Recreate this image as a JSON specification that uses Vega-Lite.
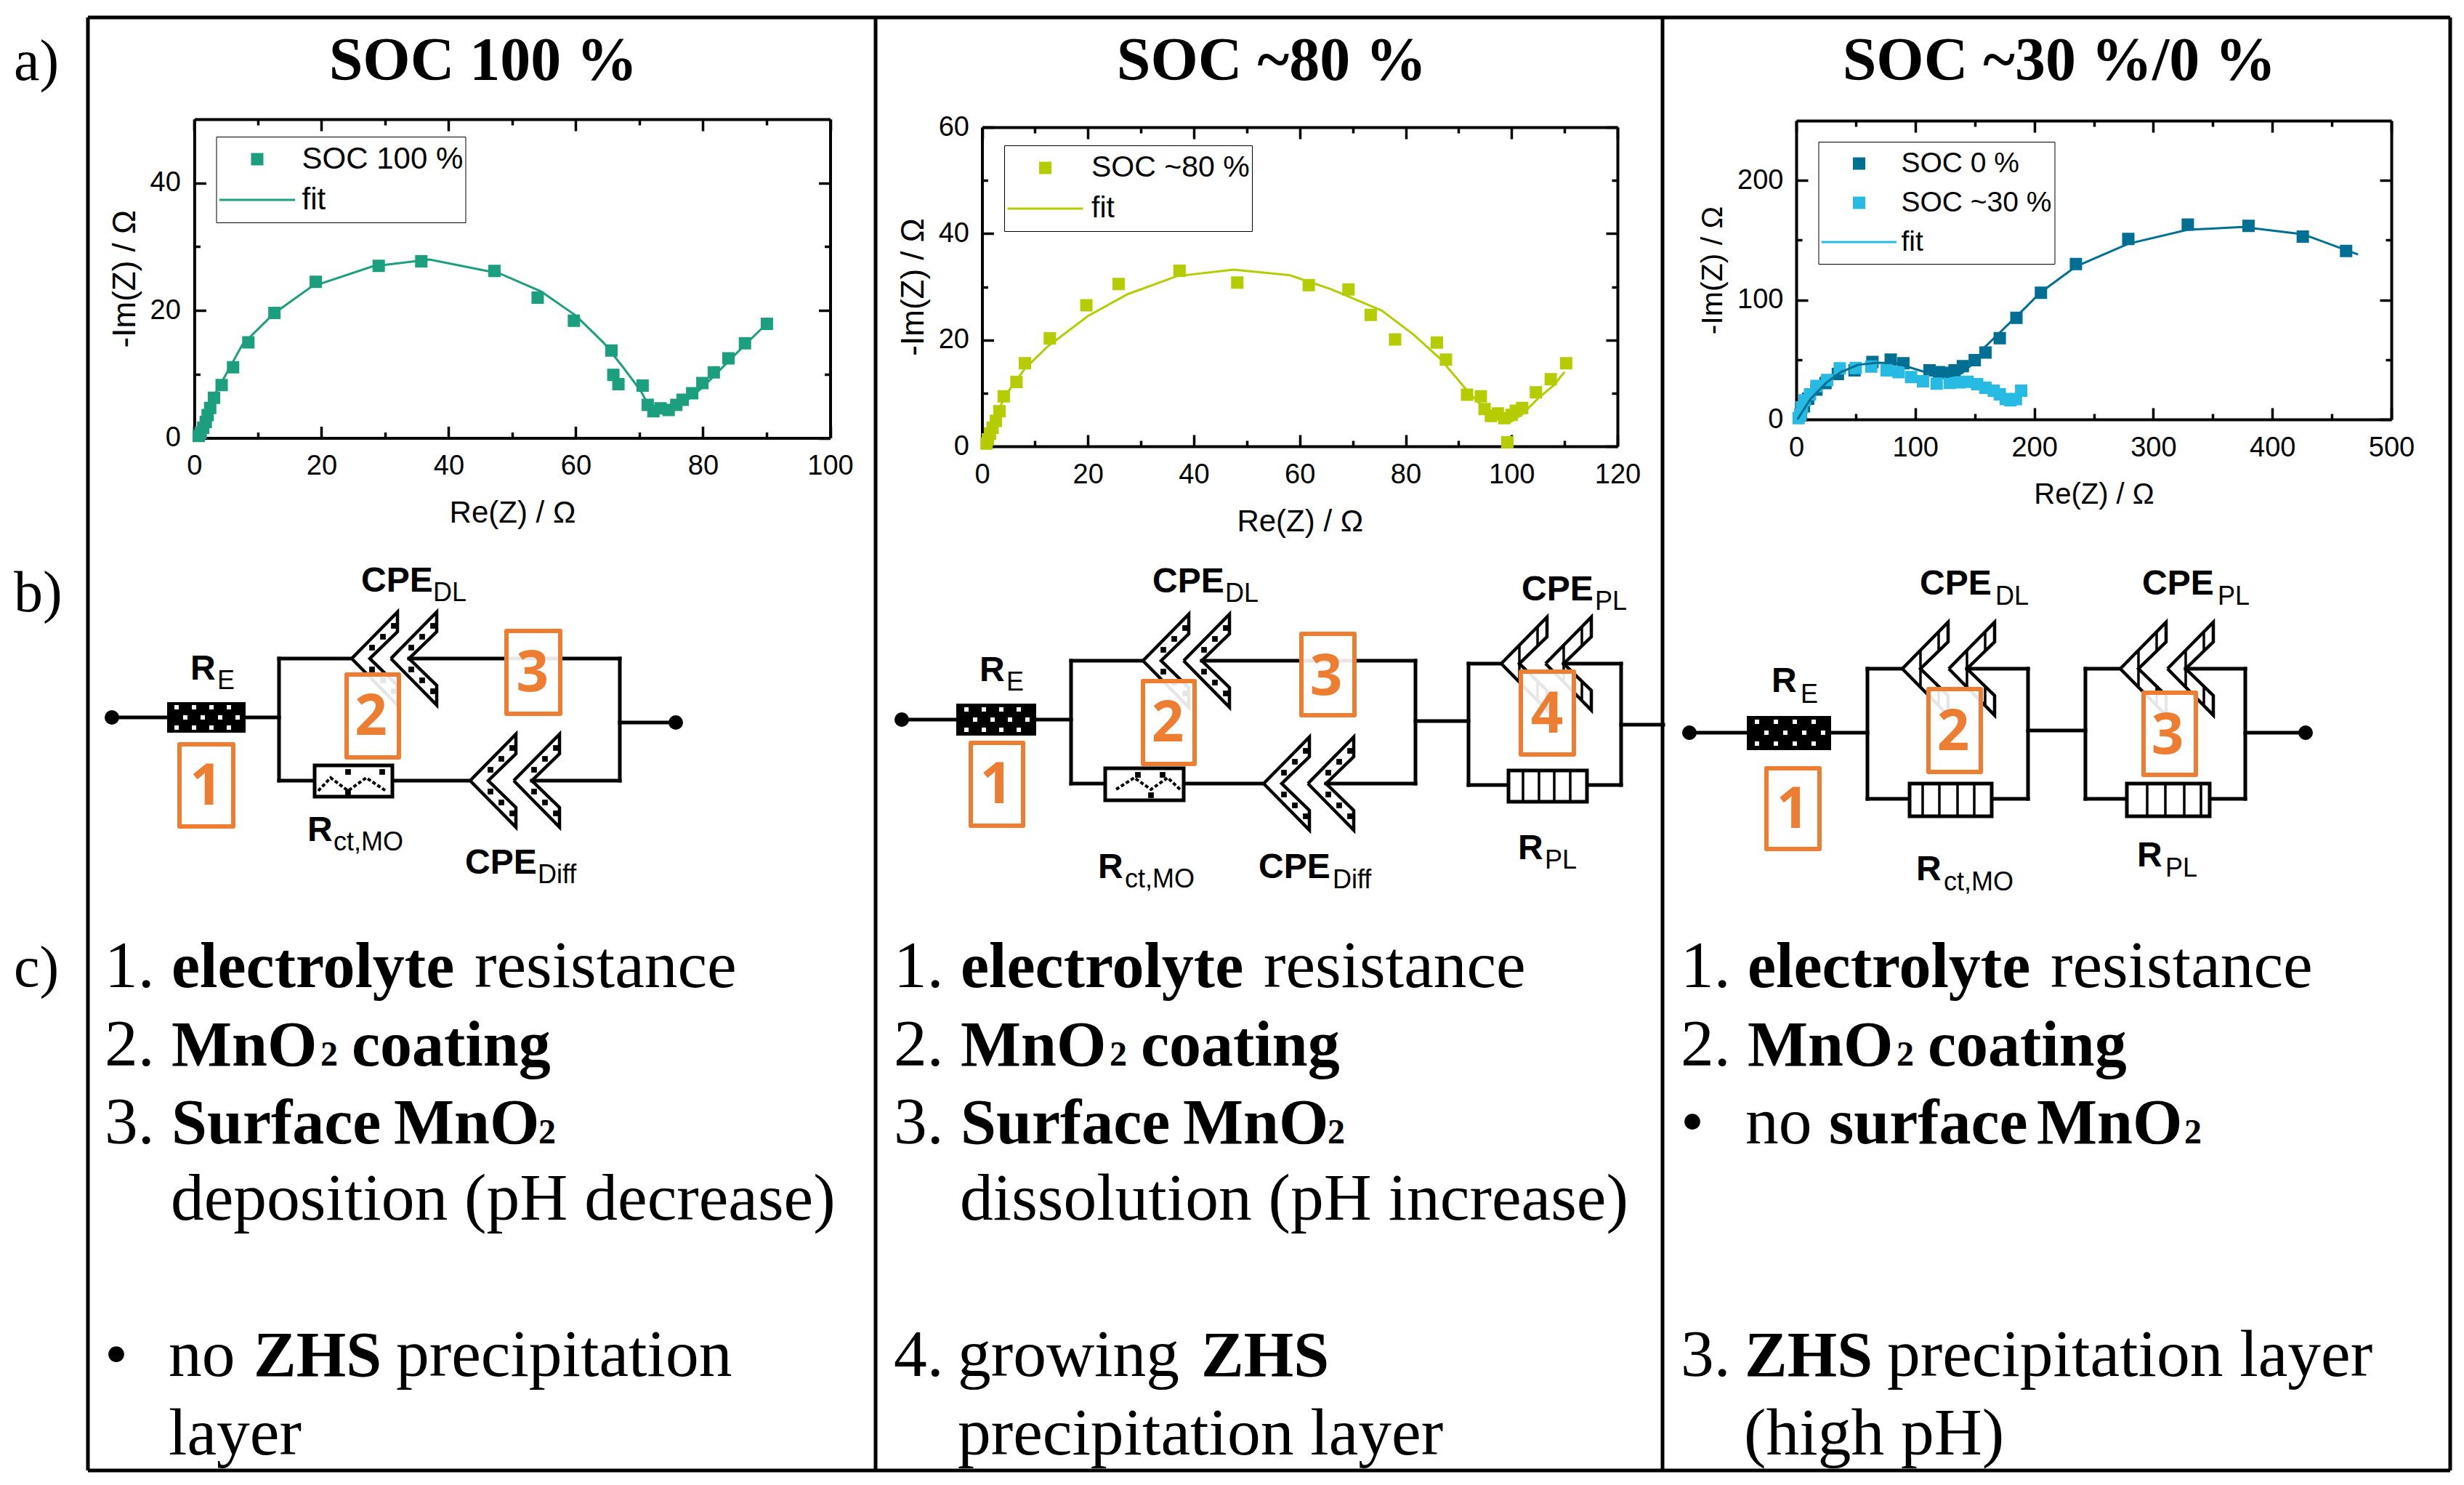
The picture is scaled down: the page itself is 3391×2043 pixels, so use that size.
{"$schema":"https://vega.github.io/schema/vega-lite/v6.json","width":3391,"height":2043,"autosize":{"type":"none"},"padding":0,"background":"white","config":{"view":{"stroke":null},"axis":{"grid":false,"domainColor":"black","tickColor":"black","labelColor":"black","titleColor":"black","domainWidth":4,"tickWidth":3.5,"labelFont":"Liberation Sans","titleFont":"Liberation Sans","titleFontWeight":"normal","labelFlush":false,"labelOverlap":false,"labelBound":false}},
"datasets":{
"frame":[{"u":12.1,"v":2.4,"u2":337.2,"v2":2.4},{"u":12.1,"v":202.3,"u2":337.2,"v2":202.3},{"u":12.1,"v":2.4,"u2":12.1,"v2":202.3},{"u":120.5,"v":2.4,"u2":120.5,"v2":202.3},{"u":228.8,"v":2.4,"u2":228.8,"v2":202.3},{"u":337.2,"v":2.4,"u2":337.2,"v2":202.3}],
"wires":[{"u":15.4,"v":98.7,"u2":23,"v2":98.7},{"u":33.8,"v":98.7,"u2":38.4,"v2":98.7},{"u":38.4,"v":90.6,"u2":38.4,"v2":107.4},{"u":38.4,"v":90.6,"u2":48.4,"v2":90.6},{"u":56.3,"v":90.6,"u2":85.3,"v2":90.6},{"u":85.3,"v":90.6,"u2":85.3,"v2":107.4},{"u":38.4,"v":107.4,"u2":43.3,"v2":107.4},{"u":54,"v":107.4,"u2":64.7,"v2":107.4},{"u":73.2,"v":107.4,"u2":85.3,"v2":107.4},{"u":85.3,"v":99.4,"u2":93,"v2":99.4},
{"u":124.1,"v":99,"u2":131.6,"v2":99},{"u":142.6,"v":99,"u2":147.4,"v2":99},{"u":147.4,"v":90.9,"u2":147.4,"v2":107.8},{"u":147.4,"v":90.9,"u2":157.3,"v2":90.9},{"u":165.4,"v":90.9,"u2":194.8,"v2":90.9},{"u":194.8,"v":90.9,"u2":194.8,"v2":107.8},{"u":147.4,"v":107.8,"u2":152.1,"v2":107.8},{"u":162.9,"v":107.8,"u2":173.9,"v2":107.8},{"u":182.5,"v":107.8,"u2":194.8,"v2":107.8},{"u":194.8,"v":99.2,"u2":202.1,"v2":99.2},{"u":202.1,"v":91.3,"u2":202.1,"v2":108},{"u":202.1,"v":91.3,"u2":206.6,"v2":91.3},{"u":215.2,"v":91.3,"u2":223.1,"v2":91.3},{"u":223.1,"v":91.3,"u2":223.1,"v2":108},{"u":202.1,"v":108,"u2":207.6,"v2":108},{"u":218.4,"v":108,"u2":223.1,"v2":108},{"u":223.1,"v":99.7,"u2":228.9,"v2":99.7},
{"u":232.5,"v":100.8,"u2":240.4,"v2":100.8},{"u":252,"v":100.8,"u2":257,"v2":100.8},{"u":257,"v":92,"u2":257,"v2":109.9},{"u":257,"v":92,"u2":261.8,"v2":92},{"u":270.7,"v":92,"u2":279.1,"v2":92},{"u":279.1,"v":92,"u2":279.1,"v2":109.9},{"u":257,"v":109.9,"u2":262.8,"v2":109.9},{"u":274.1,"v":109.9,"u2":279.1,"v2":109.9},{"u":279.1,"v":100.5,"u2":287,"v2":100.5},{"u":287,"v":92,"u2":287,"v2":109.9},{"u":287,"v":92,"u2":291.8,"v2":92},{"u":300.8,"v":92,"u2":309,"v2":92},{"u":309,"v":92,"u2":309,"v2":109.9},{"u":287,"v":109.9,"u2":292.7,"v2":109.9},{"u":304.1,"v":109.9,"u2":309,"v2":109.9},{"u":309,"v":100.8,"u2":317.3,"v2":100.8}],
"thinbars":[{"u":209.1,"v":88.8,"u2":209.1,"v2":93.8},{"u":211.6,"v":86.2,"u2":211.6,"v2":88.9},{"u":211.6,"v":93.7,"u2":211.6,"v2":96.4},{"u":215.2,"v":88.8,"u2":215.2,"v2":93.8},{"u":217.7,"v":86.2,"u2":217.7,"v2":88.9},{"u":217.7,"v":93.7,"u2":217.7,"v2":96.4},
{"u":264.3,"v":89.5,"u2":264.3,"v2":94.5},{"u":266.8,"v":86.9,"u2":266.8,"v2":89.6},{"u":266.8,"v":94.4,"u2":266.8,"v2":97.1},{"u":270.7,"v":89.5,"u2":270.7,"v2":94.5},{"u":273.2,"v":86.9,"u2":273.2,"v2":89.6},{"u":273.2,"v":94.4,"u2":273.2,"v2":97.1},{"u":294.3,"v":89.5,"u2":294.3,"v2":94.5},{"u":296.8,"v":86.9,"u2":296.8,"v2":89.6},{"u":296.8,"v":94.4,"u2":296.8,"v2":97.1},{"u":300.8,"v":89.5,"u2":300.8,"v2":94.5},{"u":303.3,"v":86.9,"u2":303.3,"v2":89.6},{"u":303.3,"v":94.4,"u2":303.3,"v2":97.1}],
"resbars":[{"u":209.6,"v":106,"u2":209.6,"v2":110.3},{"u":211.8,"v":106,"u2":211.8,"v2":110.3},{"u":213.9,"v":106,"u2":213.9,"v2":110.3},{"u":216.1,"v":106,"u2":216.1,"v2":110.3},{"u":264.6,"v":107.8,"u2":264.6,"v2":112.3},{"u":266.9,"v":107.8,"u2":266.9,"v2":112.3},{"u":269.4,"v":107.8,"u2":269.4,"v2":112.3},{"u":271.7,"v":107.8,"u2":271.7,"v2":112.3},{"u":295.5,"v":107.8,"u2":295.5,"v2":112.3},{"u":298,"v":107.8,"u2":298,"v2":112.3},{"u":300.6,"v":107.8,"u2":300.6,"v2":112.3},{"u":302.9,"v":107.8,"u2":302.9,"v2":112.3}],
"terminals":[{"u":15.4,"v":98.7},{"u":93,"v":99.4},{"u":124.1,"v":99},{"u":232.5,"v":100.8},{"u":317.3,"v":100.8}],
"blackres":[{"u":23,"v":96.6,"u2":33.8,"v2":100.8},{"u":131.6,"v":96.8,"u2":142.6,"v2":101.2},{"u":240.4,"v":98.5,"u2":252,"v2":103.2}],
"whiteres":[{"u":43.3,"v":105.3,"u2":54,"v2":109.6},{"u":152.1,"v":105.7,"u2":162.9,"v2":110.1},{"u":207.6,"v":106,"u2":218.4,"v2":110.3},{"u":262.8,"v":107.8,"u2":274.1,"v2":112.3},{"u":292.7,"v":107.8,"u2":304.1,"v2":112.3}],
"whitedots":[{"u":24.3,"v":97.3},{"u":26.7,"v":97.3},{"u":29.1,"v":97.3},{"u":31.5,"v":97.3},{"u":25.5,"v":98.7},{"u":27.9,"v":98.7},{"u":30.3,"v":98.7},{"u":32.7,"v":98.7},{"u":24.3,"v":100.1},{"u":26.7,"v":100.1},{"u":29.1,"v":100.1},{"u":31.5,"v":100.1},
{"u":133,"v":97.6},{"u":135.4,"v":97.6},{"u":137.8,"v":97.6},{"u":140.2,"v":97.6},{"u":134.2,"v":99},{"u":136.6,"v":99},{"u":139,"v":99},{"u":141.4,"v":99},{"u":133,"v":100.4},{"u":135.4,"v":100.4},{"u":137.8,"v":100.4},{"u":140.2,"v":100.4},
{"u":241.8,"v":99.3},{"u":244.4,"v":99.3},{"u":247,"v":99.3},{"u":249.6,"v":99.3},{"u":243.1,"v":100.8},{"u":245.7,"v":100.8},{"u":248.3,"v":100.8},{"u":250.9,"v":100.8},{"u":241.8,"v":102.3},{"u":244.4,"v":102.3},{"u":247,"v":102.3},{"u":249.6,"v":102.3}],
"zig":[{"k":"a","o":1,"u":43.8,"v":108.8},{"k":"a","o":2,"u":45.5,"v":107},{"k":"a","o":3,"u":47.9,"v":108.8},{"k":"a","o":4,"u":50.4,"v":107},{"k":"a","o":5,"u":53.1,"v":108.8},{"k":"b","o":1,"u":153.6,"v":108.6},{"k":"b","o":2,"u":156.1,"v":107},{"k":"b","o":3,"u":158.4,"v":108.6},{"k":"b","o":4,"u":160.7,"v":107},{"k":"b","o":5,"u":162.4,"v":108.6}],
"chev":[
{"k":"c1","o":1,"u":48.4,"v":90.6},{"k":"c1","o":2,"u":54.7,"v":84.2},{"k":"c1","o":3,"u":54.7,"v":86.9},{"k":"c1","o":4,"u":50.9,"v":90.6},{"k":"c1","o":5,"u":54.7,"v":94.3},{"k":"c1","o":6,"u":54.7,"v":97},{"k":"c1","o":7,"u":48.4,"v":90.6},
{"k":"c2","o":1,"u":53.8,"v":90.6},{"k":"c2","o":2,"u":60.1,"v":84.2},{"k":"c2","o":3,"u":60.1,"v":86.9},{"k":"c2","o":4,"u":56.3,"v":90.6},{"k":"c2","o":5,"u":60.1,"v":94.3},{"k":"c2","o":6,"u":60.1,"v":97},{"k":"c2","o":7,"u":53.8,"v":90.6},
{"k":"c3","o":1,"u":64.7,"v":107.4},{"k":"c3","o":2,"u":71,"v":101},{"k":"c3","o":3,"u":71,"v":103.7},{"k":"c3","o":4,"u":67.2,"v":107.4},{"k":"c3","o":5,"u":71,"v":111.1},{"k":"c3","o":6,"u":71,"v":113.8},{"k":"c3","o":7,"u":64.7,"v":107.4},
{"k":"c4","o":1,"u":70.7,"v":107.4},{"k":"c4","o":2,"u":77,"v":101},{"k":"c4","o":3,"u":77,"v":103.7},{"k":"c4","o":4,"u":73.2,"v":107.4},{"k":"c4","o":5,"u":77,"v":111.1},{"k":"c4","o":6,"u":77,"v":113.8},{"k":"c4","o":7,"u":70.7,"v":107.4},
{"k":"c5","o":1,"u":157.3,"v":90.9},{"k":"c5","o":2,"u":163.6,"v":84.5},{"k":"c5","o":3,"u":163.6,"v":87.2},{"k":"c5","o":4,"u":159.8,"v":90.9},{"k":"c5","o":5,"u":163.6,"v":94.6},{"k":"c5","o":6,"u":163.6,"v":97.3},{"k":"c5","o":7,"u":157.3,"v":90.9},
{"k":"c6","o":1,"u":162.9,"v":90.9},{"k":"c6","o":2,"u":169.2,"v":84.5},{"k":"c6","o":3,"u":169.2,"v":87.2},{"k":"c6","o":4,"u":165.4,"v":90.9},{"k":"c6","o":5,"u":169.2,"v":94.6},{"k":"c6","o":6,"u":169.2,"v":97.3},{"k":"c6","o":7,"u":162.9,"v":90.9},
{"k":"c7","o":1,"u":173.9,"v":107.8},{"k":"c7","o":2,"u":180.2,"v":101.4},{"k":"c7","o":3,"u":180.2,"v":104.1},{"k":"c7","o":4,"u":176.4,"v":107.8},{"k":"c7","o":5,"u":180.2,"v":111.5},{"k":"c7","o":6,"u":180.2,"v":114.2},{"k":"c7","o":7,"u":173.9,"v":107.8},
{"k":"c8","o":1,"u":180,"v":107.8},{"k":"c8","o":2,"u":186.3,"v":101.4},{"k":"c8","o":3,"u":186.3,"v":104.1},{"k":"c8","o":4,"u":182.5,"v":107.8},{"k":"c8","o":5,"u":186.3,"v":111.5},{"k":"c8","o":6,"u":186.3,"v":114.2},{"k":"c8","o":7,"u":180,"v":107.8},
{"k":"c9","o":1,"u":206.6,"v":91.3},{"k":"c9","o":2,"u":212.9,"v":84.9},{"k":"c9","o":3,"u":212.9,"v":87.6},{"k":"c9","o":4,"u":209.1,"v":91.3},{"k":"c9","o":5,"u":212.9,"v":95},{"k":"c9","o":6,"u":212.9,"v":97.7},{"k":"c9","o":7,"u":206.6,"v":91.3},
{"k":"c10","o":1,"u":212.7,"v":91.3},{"k":"c10","o":2,"u":219,"v":84.9},{"k":"c10","o":3,"u":219,"v":87.6},{"k":"c10","o":4,"u":215.2,"v":91.3},{"k":"c10","o":5,"u":219,"v":95},{"k":"c10","o":6,"u":219,"v":97.7},{"k":"c10","o":7,"u":212.7,"v":91.3},
{"k":"c11","o":1,"u":261.8,"v":92},{"k":"c11","o":2,"u":268.1,"v":85.6},{"k":"c11","o":3,"u":268.1,"v":88.3},{"k":"c11","o":4,"u":264.3,"v":92},{"k":"c11","o":5,"u":268.1,"v":95.7},{"k":"c11","o":6,"u":268.1,"v":98.4},{"k":"c11","o":7,"u":261.8,"v":92},
{"k":"c12","o":1,"u":268.2,"v":92},{"k":"c12","o":2,"u":274.5,"v":85.6},{"k":"c12","o":3,"u":274.5,"v":88.3},{"k":"c12","o":4,"u":270.7,"v":92},{"k":"c12","o":5,"u":274.5,"v":95.7},{"k":"c12","o":6,"u":274.5,"v":98.4},{"k":"c12","o":7,"u":268.2,"v":92},
{"k":"c13","o":1,"u":291.8,"v":92},{"k":"c13","o":2,"u":298.1,"v":85.6},{"k":"c13","o":3,"u":298.1,"v":88.3},{"k":"c13","o":4,"u":294.3,"v":92},{"k":"c13","o":5,"u":298.1,"v":95.7},{"k":"c13","o":6,"u":298.1,"v":98.4},{"k":"c13","o":7,"u":291.8,"v":92},
{"k":"c14","o":1,"u":298.3,"v":92},{"k":"c14","o":2,"u":304.6,"v":85.6},{"k":"c14","o":3,"u":304.6,"v":88.3},{"k":"c14","o":4,"u":300.8,"v":92},{"k":"c14","o":5,"u":304.6,"v":95.7},{"k":"c14","o":6,"u":304.6,"v":98.4},{"k":"c14","o":7,"u":298.3,"v":92}],
"hatch":[{"u":51.2,"v":89.1},{"u":51.2,"v":92.1},{"u":52.7,"v":87.6},{"u":52.7,"v":93.6},{"u":54.2,"v":86.1},{"u":54.2,"v":95.1},{"u":56.6,"v":89.1},{"u":56.6,"v":92.1},{"u":58.1,"v":87.6},{"u":58.1,"v":93.6},{"u":59.6,"v":86.1},{"u":59.6,"v":95.1},
{"u":67.5,"v":105.9},{"u":67.5,"v":108.9},{"u":69,"v":104.4},{"u":69,"v":110.4},{"u":70.5,"v":102.9},{"u":70.5,"v":111.9},{"u":73.5,"v":105.9},{"u":73.5,"v":108.9},{"u":75,"v":104.4},{"u":75,"v":110.4},{"u":76.5,"v":102.9},{"u":76.5,"v":111.9},
{"u":160.1,"v":89.4},{"u":160.1,"v":92.4},{"u":161.6,"v":87.9},{"u":161.6,"v":93.9},{"u":163.1,"v":86.4},{"u":163.1,"v":95.4},{"u":165.7,"v":89.4},{"u":165.7,"v":92.4},{"u":167.2,"v":87.9},{"u":167.2,"v":93.9},{"u":168.7,"v":86.4},{"u":168.7,"v":95.4},
{"u":176.7,"v":106.3},{"u":176.7,"v":109.3},{"u":178.2,"v":104.8},{"u":178.2,"v":110.8},{"u":179.7,"v":103.3},{"u":179.7,"v":112.3},{"u":182.8,"v":106.3},{"u":182.8,"v":109.3},{"u":184.3,"v":104.8},{"u":184.3,"v":110.8},{"u":185.8,"v":103.3},{"u":185.8,"v":112.3},
{"u":47.9,"v":106.2},{"u":52.6,"v":106.2},{"u":47.9,"v":109},{"u":156.6,"v":106.6},{"u":160,"v":106.6},{"u":158.4,"v":109.4}],
"boxes":[{"u":24.7,"v":102.4,"u2":32.1,"v2":113.7},{"u":47.7,"v":92.8,"u2":54.9,"v2":104.2},{"u":69.7,"v":86.8,"u2":77.1,"v2":98.2},{"u":133.6,"v":102.2,"u2":140.8,"v2":113.6},{"u":157.3,"v":93.7,"u2":164.4,"v2":105.1},{"u":179.1,"v":87.2,"u2":186.4,"v2":98.4},{"u":209.3,"v":92.4,"u2":216.6,"v2":103.8},{"u":243.1,"v":105.7,"u2":250.4,"v2":116.8},{"u":265.4,"v":94.8,"u2":272.6,"v2":106.2},{"u":295,"v":95.3,"u2":302.2,"v2":106.6}],
"digits":[{"u":28.35,"v":108.4,"t":"1"},{"u":51.06,"v":98.8,"t":"2"},{"u":73.27,"v":92.8,"t":"3"},{"u":137.1,"v":108.2,"t":"1"},{"u":160.7,"v":99.7,"t":"2"},{"u":182.5,"v":93.3,"t":"3"},{"u":212.9,"v":98.5,"t":"4"},{"u":246.7,"v":111.6,"t":"1"},{"u":268.8,"v":100.9,"t":"2"},{"u":298.3,"v":101.4,"t":"3"}],
"sansbig":[{"u":26.2,"v":93.5,"t":"R"},{"u":49.7,"v":81.4,"t":"CPE"},{"u":42.3,"v":115.7,"t":"R"},{"u":64,"v":120.2,"t":"CPE"},{"u":134.8,"v":93.7,"t":"R"},{"u":158.6,"v":81.5,"t":"CPE"},{"u":209.4,"v":82.6,"t":"CPE"},{"u":151.1,"v":120.8,"t":"R"},{"u":173.2,"v":120.8,"t":"CPE"},{"u":208.9,"v":118.2,"t":"R"},{"u":243.8,"v":95.2,"t":"R"},{"u":264.2,"v":81.8,"t":"CPE"},{"u":294.8,"v":81.8,"t":"CPE"},{"u":263.7,"v":121.1,"t":"R"},{"u":294.1,"v":119.2,"t":"R"}],
"sanssub":[{"u":29.9,"v":94.8,"t":"E"},{"u":59.6,"v":82.7,"t":"DL"},{"u":45.9,"v":117,"t":"ct,MO"},{"u":74,"v":121.5,"t":"Diff"},{"u":138.5,"v":95,"t":"E"},{"u":168.6,"v":82.8,"t":"DL"},{"u":219.5,"v":83.9,"t":"PL"},{"u":154.8,"v":122.1,"t":"ct,MO"},{"u":183.4,"v":122.2,"t":"Diff"},{"u":212.6,"v":119.5,"t":"PL"},{"u":247.8,"v":96.7,"t":"E"},{"u":274.6,"v":83.2,"t":"DL"},{"u":305.2,"v":83.2,"t":"PL"},{"u":267.5,"v":122.5,"t":"ct,MO"},{"u":298,"v":120.6,"t":"PL"}],
"serif":[{"u":14.7,"v":135.5,"t":"1."},{"u":65.6,"v":135.5,"t":"resistance"},{"u":14.7,"v":146.25,"t":"2."},{"u":14.7,"v":157,"t":"3."},{"u":23.8,"v":167.5,"t":"deposition (pH decrease)"},{"u":14.7,"v":189,"t":"•"},{"u":23.5,"v":189,"t":"no"},{"u":54.8,"v":189,"t":"precipitation"},{"u":23.5,"v":199.75,"t":"layer"},
{"u":123.3,"v":135.5,"t":"1."},{"u":174.2,"v":135.5,"t":"resistance"},{"u":123.3,"v":146.25,"t":"2."},{"u":123.3,"v":157,"t":"3."},{"u":132.4,"v":167.5,"t":"dissolution (pH increase)"},{"u":123.3,"v":189,"t":"4."},{"u":132.1,"v":189,"t":"growing"},{"u":132.1,"v":199.75,"t":"precipitation layer"},
{"u":231.6,"v":135.5,"t":"1."},{"u":282.5,"v":135.5,"t":"resistance"},{"u":231.6,"v":146.25,"t":"2."},{"u":231.6,"v":157,"t":"•"},{"u":240.5,"v":157,"t":"no"},{"u":231.6,"v":189,"t":"3."},{"u":260,"v":189,"t":"precipitation layer"},{"u":240.3,"v":199.75,"t":"(high pH)"}],
"serifbold":[{"u":23.8,"v":135.5,"t":"electrolyte"},{"u":23.8,"v":146.25,"t":"MnO"},{"u":48.6,"v":146.25,"t":"coating"},{"u":23.8,"v":157,"t":"Surface"},{"u":54.4,"v":157,"t":"MnO"},{"u":35.1,"v":189,"t":"ZHS"},{"u":132.4,"v":135.5,"t":"electrolyte"},{"u":132.4,"v":146.25,"t":"MnO"},{"u":157.2,"v":146.25,"t":"coating"},{"u":132.4,"v":157,"t":"Surface"},{"u":163,"v":157,"t":"MnO"},{"u":165.5,"v":189,"t":"ZHS"},{"u":240.7,"v":135.5,"t":"electrolyte"},{"u":240.7,"v":146.25,"t":"MnO"},{"u":265.5,"v":146.25,"t":"coating"},{"u":251.9,"v":157,"t":"surface"},{"u":280.5,"v":157,"t":"MnO"},{"u":240.3,"v":189,"t":"ZHS"}],
"subtwo":[{"u":44.5,"v":146.25,"t":"2"},{"u":74.5,"v":157,"t":"2"},{"u":153.1,"v":146.25,"t":"2"},{"u":183.1,"v":157,"t":"2"},{"u":261.4,"v":146.25,"t":"2"},{"u":301,"v":157,"t":"2"}],
"titles":[{"u":66.2,"v":10.8,"t":"SOC 100 %"},{"u":174.7,"v":10.8,"t":"SOC ~80 %"},{"u":283.1,"v":10.8,"t":"SOC ~30 %/0 %"}],
"panels":[{"u":1.9,"v":10.8,"t":"a)"},{"u":1.9,"v":83.9,"t":"b)"},{"u":1.9,"v":135.5,"t":"c)"}],
"p1pts":[{"re":0.7,"im":0.3,"series":"SOC 100 %"},{"re":1,"im":0.8,"series":"SOC 100 %"},{"re":1.4,"im":1.6,"series":"SOC 100 %"},{"re":1.8,"im":2.5,"series":"SOC 100 %"},{"re":2.1,"im":3.6,"series":"SOC 100 %"},{"re":2.5,"im":4.7,"series":"SOC 100 %"},{"re":3.1,"im":6.3,"series":"SOC 100 %"},{"re":4.3,"im":8.3,"series":"SOC 100 %"},{"re":6.1,"im":11.1,"series":"SOC 100 %"},{"re":8.5,"im":15,"series":"SOC 100 %"},{"re":12.6,"im":19.6,"series":"SOC 100 %"},{"re":19.1,"im":24.5,"series":"SOC 100 %"},{"re":29,"im":27,"series":"SOC 100 %"},{"re":35.7,"im":27.7,"series":"SOC 100 %"},{"re":47.2,"im":26.2,"series":"SOC 100 %"},{"re":54,"im":22,"series":"SOC 100 %"},{"re":59.7,"im":18.4,"series":"SOC 100 %"},{"re":65.6,"im":13.7,"series":"SOC 100 %"},{"re":65.9,"im":9.9,"series":"SOC 100 %"},{"re":66.7,"im":8.45,"series":"SOC 100 %"},{"re":70.5,"im":8.2,"series":"SOC 100 %"},{"re":71.3,"im":5.2,"series":"SOC 100 %"},{"re":72.2,"im":4.2,"series":"SOC 100 %"},{"re":73.3,"im":4.65,"series":"SOC 100 %"},{"re":74.6,"im":4.4,"series":"SOC 100 %"},{"re":75.8,"im":5.2,"series":"SOC 100 %"},{"re":76.8,"im":6,"series":"SOC 100 %"},{"re":78.3,"im":7,"series":"SOC 100 %"},{"re":79.9,"im":8.6,"series":"SOC 100 %"},{"re":81.7,"im":10.3,"series":"SOC 100 %"},{"re":84,"im":12.5,"series":"SOC 100 %"},{"re":86.6,"im":14.85,"series":"SOC 100 %"},{"re":90.05,"im":17.9,"series":"SOC 100 %"}],
"p1fit":[{"re":0.4,"im":0},{"re":1,"im":1.5},{"re":2,"im":4},{"re":3.2,"im":6.8},{"re":5,"im":10},{"re":7.6,"im":14.7},{"re":12.5,"im":19.5},{"re":18.4,"im":23.7},{"re":28,"im":26.9},{"re":37,"im":28},{"re":48,"im":25.8},{"re":54.5,"im":23},{"re":60,"im":19.2},{"re":64.4,"im":14.9},{"re":67.5,"im":11},{"re":70.2,"im":7.4},{"re":71.5,"im":5},{"re":73,"im":4.3},{"re":75,"im":4.3},{"re":77,"im":5.5},{"re":80,"im":8},{"re":84,"im":12},{"re":87,"im":15},{"re":90,"im":17.9}],
"p2pts":[{"re":0.85,"im":0.5,"series":"SOC ~80 %"},{"re":1.1,"im":1.3,"series":"SOC ~80 %"},{"re":1.5,"im":2.4,"series":"SOC ~80 %"},{"re":2,"im":3.5,"series":"SOC ~80 %"},{"re":2.6,"im":4.8,"series":"SOC ~80 %"},{"re":3.3,"im":6.6,"series":"SOC ~80 %"},{"re":4.1,"im":9.4,"series":"SOC ~80 %"},{"re":6.5,"im":12.1,"series":"SOC ~80 %"},{"re":8.1,"im":15.6,"series":"SOC ~80 %"},{"re":12.8,"im":20.3,"series":"SOC ~80 %"},{"re":19.7,"im":26.5,"series":"SOC ~80 %"},{"re":25.8,"im":30.5,"series":"SOC ~80 %"},{"re":37.3,"im":33,"series":"SOC ~80 %"},{"re":48.2,"im":30.8,"series":"SOC ~80 %"},{"re":61.7,"im":30.3,"series":"SOC ~80 %"},{"re":69.2,"im":29.5,"series":"SOC ~80 %"},{"re":73.4,"im":24.7,"series":"SOC ~80 %"},{"re":78,"im":20.1,"series":"SOC ~80 %"},{"re":85.9,"im":19.5,"series":"SOC ~80 %"},{"re":87.6,"im":16.3,"series":"SOC ~80 %"},{"re":91.6,"im":9.7,"series":"SOC ~80 %"},{"re":94.2,"im":9.4,"series":"SOC ~80 %"},{"re":94.9,"im":7,"series":"SOC ~80 %"},{"re":96.1,"im":5.7,"series":"SOC ~80 %"},{"re":97.4,"im":6.2,"series":"SOC ~80 %"},{"re":98.6,"im":5.3,"series":"SOC ~80 %"},{"re":99.2,"im":0.75,"series":"SOC ~80 %"},{"re":100,"im":5.9,"series":"SOC ~80 %"},{"re":100.8,"im":6.7,"series":"SOC ~80 %"},{"re":102,"im":7.2,"series":"SOC ~80 %"},{"re":104.6,"im":10.15,"series":"SOC ~80 %"},{"re":107.4,"im":12.6,"series":"SOC ~80 %"},{"re":110.3,"im":15.6,"series":"SOC ~80 %"}],
"p2fit":[{"re":0.5,"im":0},{"re":1,"im":1.5},{"re":2,"im":4.5},{"re":4.5,"im":9.7},{"re":8,"im":14.5},{"re":12.2,"im":18.6},{"re":20,"im":24.5},{"re":27.5,"im":28.6},{"re":36.8,"im":32},{"re":47.5,"im":33.2},{"re":58,"im":32.2},{"re":66,"im":29.5},{"re":75.5,"im":25.5},{"re":81.5,"im":21},{"re":86.5,"im":16.5},{"re":92,"im":10},{"re":95,"im":7},{"re":97.5,"im":5},{"re":99.5,"im":4.4},{"re":102,"im":6},{"re":105,"im":9},{"re":108,"im":11.5},{"re":110,"im":14}],
"p3pts":[{"re":3.8,"im":4.3,"series":"SOC 0 %"},{"re":6.4,"im":11,"series":"SOC 0 %"},{"re":10,"im":17.4,"series":"SOC 0 %"},{"re":17,"im":25,"series":"SOC 0 %"},{"re":24.6,"im":30.4,"series":"SOC 0 %"},{"re":35,"im":38,"series":"SOC 0 %"},{"re":49,"im":41,"series":"SOC 0 %"},{"re":64,"im":48,"series":"SOC 0 %"},{"re":79.4,"im":50,"series":"SOC 0 %"},{"re":90,"im":47,"series":"SOC 0 %"},{"re":112,"im":41,"series":"SOC 0 %"},{"re":120,"im":39.6,"series":"SOC 0 %"},{"re":126.6,"im":39,"series":"SOC 0 %"},{"re":133,"im":41,"series":"SOC 0 %"},{"re":140,"im":44.6,"series":"SOC 0 %"},{"re":150,"im":49.6,"series":"SOC 0 %"},{"re":159,"im":56,"series":"SOC 0 %"},{"re":171,"im":68,"series":"SOC 0 %"},{"re":185,"im":85,"series":"SOC 0 %"},{"re":205.6,"im":106,"series":"SOC 0 %"},{"re":235,"im":130,"series":"SOC 0 %"},{"re":279,"im":151,"series":"SOC 0 %"},{"re":329,"im":163,"series":"SOC 0 %"},{"re":380,"im":162,"series":"SOC 0 %"},{"re":425.6,"im":153,"series":"SOC 0 %"},{"re":462,"im":141,"series":"SOC 0 %"},
{"re":2,"im":1,"series":"SOC ~30 %"},{"re":3.4,"im":4,"series":"SOC ~30 %"},{"re":4.7,"im":10,"series":"SOC ~30 %"},{"re":7,"im":16,"series":"SOC ~30 %"},{"re":11.6,"im":21,"series":"SOC ~30 %"},{"re":17,"im":28,"series":"SOC ~30 %"},{"re":26,"im":33,"series":"SOC ~30 %"},{"re":36.6,"im":42.7,"series":"SOC ~30 %"},{"re":50,"im":43,"series":"SOC ~30 %"},{"re":63,"im":44.3,"series":"SOC ~30 %"},{"re":76,"im":41,"series":"SOC ~30 %"},{"re":86,"im":39.6,"series":"SOC ~30 %"},{"re":96.5,"im":35.5,"series":"SOC ~30 %"},{"re":106.5,"im":32,"series":"SOC ~30 %"},{"re":118,"im":30,"series":"SOC ~30 %"},{"re":129,"im":30.5,"series":"SOC ~30 %"},{"re":137,"im":31,"series":"SOC ~30 %"},{"re":144,"im":31.5,"series":"SOC ~30 %"},{"re":152,"im":29.5,"series":"SOC ~30 %"},{"re":159,"im":26.4,"series":"SOC ~30 %"},{"re":166,"im":24,"series":"SOC ~30 %"},{"re":171,"im":21,"series":"SOC ~30 %"},{"re":176,"im":17,"series":"SOC ~30 %"},{"re":180,"im":16,"series":"SOC ~30 %"},{"re":184.6,"im":17,"series":"SOC ~30 %"},{"re":189,"im":24,"series":"SOC ~30 %"}],
"p3fit":[{"re":1,"im":0},{"re":12,"im":17},{"re":25,"im":30.5},{"re":37.5,"im":39.6},{"re":52,"im":45.7},{"re":68,"im":47.4},{"re":84,"im":47},{"re":98,"im":42.7},{"re":115,"im":37.6},{"re":127,"im":35.6},{"re":139,"im":38.6},{"re":151,"im":48.8},{"re":159,"im":61},{"re":192,"im":93},{"re":205,"im":106},{"re":235,"im":128},{"re":279,"im":147},{"re":329,"im":158.7},{"re":375,"im":161},{"re":425.6,"im":155},{"re":472,"im":138}]
},
"layer":[
{"encoding":{"x":{"field":"u","type":"quantitative","scale":{"domain":[0,339.1],"range":[0,3391],"nice":false,"zero":false},"axis":null},"y":{"field":"v","type":"quantitative","scale":{"domain":[0,204.3],"range":[0,2043],"nice":false,"zero":false},"axis":null}},
"layer":[
{"data":{"name":"frame"},"mark":{"type":"rule","strokeWidth":5,"color":"black"},"encoding":{"x2":{"field":"u2"},"y2":{"field":"v2"}}},
{"data":{"name":"wires"},"mark":{"type":"rule","strokeWidth":5,"color":"black","strokeCap":"square"},"encoding":{"x2":{"field":"u2"},"y2":{"field":"v2"}}},
{"data":{"name":"terminals"},"mark":{"type":"point","filled":true,"shape":"circle","size":400,"color":"black","opacity":1}},
{"data":{"name":"blackres"},"mark":{"type":"rect","color":"black"},"encoding":{"x2":{"field":"u2"},"y2":{"field":"v2"}}},
{"data":{"name":"whitedots"},"mark":{"type":"point","filled":true,"shape":"square","size":36,"color":"white","opacity":1}},
{"data":{"name":"whiteres"},"mark":{"type":"rect","fill":"white","stroke":"black","strokeWidth":5},"encoding":{"x2":{"field":"u2"},"y2":{"field":"v2"}}},
{"data":{"name":"resbars"},"mark":{"type":"rule","strokeWidth":3.5,"color":"black"},"encoding":{"x2":{"field":"u2"},"y2":{"field":"v2"}}},
{"data":{"name":"zig"},"mark":{"type":"line","color":"black","strokeWidth":4,"strokeDash":[5,3]},"encoding":{"detail":{"field":"k"},"order":{"field":"o","type":"quantitative"}}},
{"data":{"name":"chev"},"mark":{"type":"line","color":"black","strokeWidth":4.5,"strokeJoin":"miter"},"encoding":{"detail":{"field":"k"},"order":{"field":"o","type":"quantitative"}}},
{"data":{"name":"hatch"},"mark":{"type":"point","filled":true,"shape":"square","size":60,"color":"black","opacity":1}},
{"data":{"name":"thinbars"},"mark":{"type":"rule","strokeWidth":3.5,"color":"black"},"encoding":{"x2":{"field":"u2"},"y2":{"field":"v2"}}},
{"data":{"name":"boxes"},"mark":{"type":"rect","fill":"white","fillOpacity":0.9,"stroke":"#ED7D31","strokeWidth":6,"strokeJoin":"round"},"encoding":{"x2":{"field":"u2"},"y2":{"field":"v2"}}},
{"data":{"name":"digits"},"mark":{"type":"text","font":"Open Sans","fontWeight":"bold","fontSize":78,"color":"#ED7D31","align":"center","baseline":"middle"},"encoding":{"text":{"field":"t"}}},
{"data":{"name":"sansbig"},"mark":{"type":"text","font":"Liberation Sans","fontWeight":"bold","fontSize":48,"color":"black","align":"left","baseline":"alphabetic"},"encoding":{"text":{"field":"t"}}},
{"data":{"name":"sanssub"},"mark":{"type":"text","font":"Liberation Sans","fontSize":36,"color":"black","align":"left","baseline":"alphabetic"},"encoding":{"text":{"field":"t"}}},
{"data":{"name":"serif"},"mark":{"type":"text","font":"Liberation Serif","fontSize":91.5,"color":"black","align":"left","baseline":"alphabetic","dx":-3,"dy":3},"encoding":{"text":{"field":"t"}}},
{"data":{"name":"serifbold"},"mark":{"type":"text","font":"Liberation Serif","fontWeight":"bold","fontSize":88,"color":"black","align":"left","baseline":"alphabetic","dx":-2,"dy":3},"encoding":{"text":{"field":"t"}}},
{"data":{"name":"subtwo"},"mark":{"type":"text","font":"Liberation Serif","fontWeight":"bold","fontSize":48,"color":"black","align":"left","baseline":"alphabetic","dx":-4,"dy":3},"encoding":{"text":{"field":"t"}}},
{"data":{"name":"titles"},"mark":{"type":"text","font":"Liberation Serif","fontWeight":"bold","fontSize":84,"color":"black","align":"center","baseline":"alphabetic","dx":3,"dy":2},"encoding":{"text":{"field":"t"}}},
{"data":{"name":"panels"},"mark":{"type":"text","font":"Liberation Serif","fontSize":80,"color":"black","align":"left","baseline":"alphabetic","dy":2},"encoding":{"text":{"field":"t"}}}
]},
{"layer":[
{"data":{"name":"p1pts"},"mark":{"type":"point","filled":true,"strokeWidth":3,"opacity":1},"encoding":{
"x":{"field":"re","type":"quantitative","scale":{"domain":[0,100],"range":[267.4,1142.5],"nice":false,"zero":false},"axis":{"orient":"bottom","offset":-1440.5,"values":[0,20,40,60,80,100],"tickSize":-16,"labelPadding":36,"labelFontSize":38,"title":"Re(Z) / Ω","titleFontSize":42,"titlePadding":25}},
"y":{"field":"im","type":"quantitative","scale":{"domain":[0,50],"range":[602.5,164],"nice":false,"zero":false},"axis":{"orient":"left","offset":-267.4,"values":[0,20,40],"tickSize":-16,"labelPadding":35,"labelFontSize":38,"title":"-Im(Z) / Ω","titleFontSize":44,"titlePadding":12}},
"fill":{"field":"series","type":"nominal","scale":{"domain":["SOC 100 %","fit"],"range":["#1B9F7E","#1B9F7E"]},"legend":{"title":null,"orient":"none","legendX":297.5,"legendY":188,"fillColor":"white","strokeColor":"black","padding":3,"labelFont":"Liberation Sans","labelFontSize":42,"labelColor":"black","labelOffset":8,"clipHeight":56,"rowPadding":0,"symbolStrokeWidth":3,"labelLimit":400}},
"stroke":{"field":"series","type":"nominal","scale":{"domain":["SOC 100 %","fit"],"range":["#1B9F7E","#1B9F7E"]}},
"shape":{"field":"series","type":"nominal","scale":{"domain":["SOC 100 %","fit"],"range":["square","stroke"]}},
"size":{"field":"series","type":"nominal","scale":{"type":"ordinal","domain":["SOC 100 %","fit"],"range":[196,10816]}}}},
{"data":{"name":"p1fit"},"mark":{"type":"line","color":"#1B9F7E","strokeWidth":3},"encoding":{
"x":{"field":"re","type":"quantitative","axis":{"orient":"top","offset":-164,"values":[0,20,40,60,80,100],"tickSize":-16,"labels":false,"title":null}},
"y":{"field":"im","type":"quantitative","axis":{"orient":"right","offset":-2248.5,"values":[0,20,40],"tickSize":-16,"labels":false,"title":null}}}},
{"data":{"name":"p1fit"},"mark":{"type":"point","opacity":0},"encoding":{
"x":{"field":"re","type":"quantitative","axis":{"orient":"bottom","offset":-1440.5,"values":[10,30,50,70,90],"tickSize":-8,"labels":false,"domain":false,"title":null}},
"y":{"field":"im","type":"quantitative","axis":{"orient":"left","offset":-267.4,"values":[10,30],"tickSize":-8,"labels":false,"domain":false,"title":null}}}},
{"data":{"name":"p1fit"},"mark":{"type":"point","opacity":0},"encoding":{
"x":{"field":"re","type":"quantitative","axis":{"orient":"top","offset":-164,"values":[10,30,50,70,90],"tickSize":-8,"labels":false,"domain":false,"title":null}},
"y":{"field":"im","type":"quantitative","axis":{"orient":"right","offset":-2248.5,"values":[10,30],"tickSize":-8,"labels":false,"domain":false,"title":null}}}}
],"resolve":{"axis":{"x":"independent","y":"independent"}}},
{"layer":[
{"data":{"name":"p2pts"},"mark":{"type":"point","filled":true,"strokeWidth":3,"opacity":1},"encoding":{
"x":{"field":"re","type":"quantitative","scale":{"domain":[0,120],"range":[1351.5,2226],"nice":false,"zero":false},"axis":{"orient":"bottom","offset":-1429,"values":[0,20,40,60,80,100,120],"tickSize":-16,"labelPadding":36,"labelFontSize":38,"title":"Re(Z) / Ω","titleFontSize":42,"titlePadding":25}},
"y":{"field":"im","type":"quantitative","scale":{"domain":[0,60],"range":[614,175],"nice":false,"zero":false},"axis":{"orient":"left","offset":-1351.5,"values":[0,20,40,60],"tickSize":-16,"labelPadding":34,"labelFontSize":38,"title":"-Im(Z) / Ω","titleFontSize":44,"titlePadding":12}},
"fill":{"field":"series","type":"nominal","scale":{"domain":["SOC ~80 %","fit"],"range":["#B5CD00","#B5CD00"]},"legend":{"title":null,"orient":"none","legendX":1382,"legendY":200,"fillColor":"white","strokeColor":"black","padding":3,"labelFont":"Liberation Sans","labelFontSize":41,"labelColor":"black","labelOffset":10,"clipHeight":56,"rowPadding":0,"symbolStrokeWidth":3,"labelLimit":400}},
"stroke":{"field":"series","type":"nominal","scale":{"domain":["SOC ~80 %","fit"],"range":["#B5CD00","#B5CD00"]}},
"shape":{"field":"series","type":"nominal","scale":{"domain":["SOC ~80 %","fit"],"range":["square","stroke"]}},
"size":{"field":"series","type":"nominal","scale":{"type":"ordinal","domain":["SOC ~80 %","fit"],"range":[196,10816]}}}},
{"data":{"name":"p2fit"},"mark":{"type":"line","color":"#B5CD00","strokeWidth":3},"encoding":{
"x":{"field":"re","type":"quantitative","axis":{"orient":"top","offset":-175,"values":[0,20,40,60,80,100,120],"tickSize":-16,"labels":false,"title":null}},
"y":{"field":"im","type":"quantitative","axis":{"orient":"right","offset":-1165,"values":[0,20,40,60],"tickSize":-16,"labels":false,"title":null}}}},
{"data":{"name":"p2fit"},"mark":{"type":"point","opacity":0},"encoding":{
"x":{"field":"re","type":"quantitative","axis":{"orient":"bottom","offset":-1429,"values":[10,30,50,70,90,110],"tickSize":-8,"labels":false,"domain":false,"title":null}},
"y":{"field":"im","type":"quantitative","axis":{"orient":"left","offset":-1351.5,"values":[10,30,50],"tickSize":-8,"labels":false,"domain":false,"title":null}}}},
{"data":{"name":"p2fit"},"mark":{"type":"point","opacity":0},"encoding":{
"x":{"field":"re","type":"quantitative","axis":{"orient":"top","offset":-175,"values":[10,30,50,70,90,110],"tickSize":-8,"labels":false,"domain":false,"title":null}},
"y":{"field":"im","type":"quantitative","axis":{"orient":"right","offset":-1165,"values":[10,30,50],"tickSize":-8,"labels":false,"domain":false,"title":null}}}}
],"resolve":{"axis":{"x":"independent","y":"independent"}}},
{"layer":[
{"data":{"name":"p3pts"},"mark":{"type":"point","filled":true,"strokeWidth":3,"opacity":1},"encoding":{
"x":{"field":"re","type":"quantitative","scale":{"domain":[0,500],"range":[2472,3291],"nice":false,"zero":false},"axis":{"orient":"bottom","offset":-1466,"values":[0,100,200,300,400,500],"tickSize":-16,"labelPadding":36,"labelFontSize":38,"title":"Re(Z) / Ω","titleFontSize":40,"titlePadding":25}},
"y":{"field":"im","type":"quantitative","scale":{"domain":[0,250],"range":[577,166],"nice":false,"zero":false},"axis":{"orient":"left","offset":-2472,"values":[0,100,200],"tickSize":-16,"labelPadding":34,"labelFontSize":38,"title":"-Im(Z) / Ω","titleFontSize":41,"titlePadding":12}},
"fill":{"field":"series","type":"nominal","scale":{"domain":["SOC 0 %","SOC ~30 %","fit"],"range":["#006F94","#27BBE4","#27BBE4"]},"legend":{"title":null,"orient":"none","legendX":2502.5,"legendY":195,"fillColor":"white","strokeColor":"black","padding":3,"labelFont":"Liberation Sans","labelFontSize":39,"labelColor":"black","labelOffset":5,"clipHeight":54,"rowPadding":0,"symbolStrokeWidth":3,"labelLimit":400}},
"stroke":{"field":"series","type":"nominal","scale":{"domain":["SOC 0 %","SOC ~30 %","fit"],"range":["#006F94","#27BBE4","#27BBE4"]}},
"shape":{"field":"series","type":"nominal","scale":{"domain":["SOC 0 %","SOC ~30 %","fit"],"range":["square","square","stroke"]}},
"size":{"field":"series","type":"nominal","scale":{"type":"ordinal","domain":["SOC 0 %","SOC ~30 %","fit"],"range":[196,196,10609]}}}},
{"data":{"name":"p3fit"},"mark":{"type":"line","color":"#006F94","strokeWidth":3},"encoding":{
"x":{"field":"re","type":"quantitative","axis":{"orient":"top","offset":-166,"values":[0,100,200,300,400,500],"tickSize":-16,"labels":false,"title":null}},
"y":{"field":"im","type":"quantitative","axis":{"orient":"right","offset":-100,"values":[0,100,200],"tickSize":-16,"labels":false,"title":null}}}},
{"data":{"name":"p3fit"},"mark":{"type":"point","opacity":0},"encoding":{
"x":{"field":"re","type":"quantitative","axis":{"orient":"bottom","offset":-1466,"values":[50,150,250,350,450],"tickSize":-8,"labels":false,"domain":false,"title":null}},
"y":{"field":"im","type":"quantitative","axis":{"orient":"left","offset":-2472,"values":[50,150],"tickSize":-8,"labels":false,"domain":false,"title":null}}}},
{"data":{"name":"p3fit"},"mark":{"type":"point","opacity":0},"encoding":{
"x":{"field":"re","type":"quantitative","axis":{"orient":"top","offset":-166,"values":[50,150,250,350,450],"tickSize":-8,"labels":false,"domain":false,"title":null}},
"y":{"field":"im","type":"quantitative","axis":{"orient":"right","offset":-100,"values":[50,150],"tickSize":-8,"labels":false,"domain":false,"title":null}}}}
],"resolve":{"axis":{"x":"independent","y":"independent"}}}
],
"resolve":{"scale":{"x":"independent","y":"independent","fill":"independent","stroke":"independent","shape":"independent","size":"independent"},"axis":{"x":"independent","y":"independent"},"legend":{"fill":"independent","stroke":"independent","shape":"independent","size":"independent"}}}
